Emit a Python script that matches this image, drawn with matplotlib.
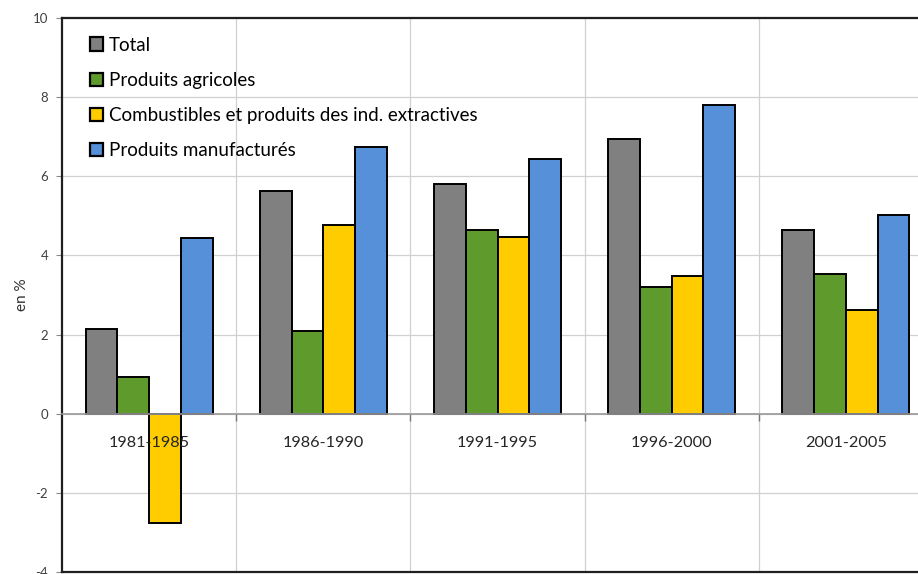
import numpy as np
import matplotlib
matplotlib.use('Agg')
import matplotlib.pyplot as plt

plt.rcParams['font.family'] = ['Lato', 'DejaVu Sans']
plt.rcParams['axes.unicode_minus'] = False

# data (en %)
periodes = ['1981-1985', '1986-1990', '1991-1995', '1996-2000', '2001-2005']
series_noms = ['Total', 'Produits agricoles',
               'Combustibles et produits des ind. extractives',
               'Produits manufacturés']
total = [2.13, 5.63, 5.80, 6.94, 4.64]
agricoles = [0.94, 2.10, 4.64, 3.21, 3.54]
combustibles = [-2.77, 4.78, 4.46, 3.49, 2.63]
manufactures = [4.43, 6.75, 6.44, 7.79, 5.03]
couleurs = ['#808080', '#5E9A2C', '#FFCC00', '#5590D8']

series = [total, agricoles, combustibles, manufactures]

##################################### figure
fig = plt.figure(figsize=(9.18, 5.74), dpi=100)
ax = fig.add_axes([62/918, 2/574, (933-62)/918, 554/574])

x = np.arange(len(periodes))
w = 0.182
for i, (vals, nom, c) in enumerate(zip(series, series_noms, couleurs)):
    ax.bar(x + (i - 1.5)*w, vals, w, color=c, edgecolor='black',
           linewidth=1.4, label=nom, zorder=2)

ax.set_xlim(-0.5, len(periodes) - 0.5)
ax.set_ylim(-4, 10)
ax.set_yticks(np.arange(-4, 11, 2))
ax.set_xticks(x[:-1] + 0.5)
ax.set_xticklabels([])
ax.tick_params(axis='x', length=0)
ax.tick_params(axis='y', length=4, width=0.8, color='#888888',
               labelsize=9.5, labelcolor='#404040', pad=6)
ax.grid(True, color='#d0d0d0', linewidth=0.9, zorder=0)
ax.set_axisbelow(True)
for s in ['left', 'bottom', 'top']:
    ax.spines[s].set_linewidth(1.6)
    ax.spines[s].set_color('#202020')
ax.set_ylabel('en %', fontsize=11, color='#303030', labelpad=3)

# category axis along zero, drawn over the bars
frac0 = (0 - (-4)) / 14
sec = ax.secondary_xaxis(frac0)
sec.set_zorder(5)
sec.set_xticks(x)
sec.set_xticklabels(periodes)
sec.set_xticks(x[:-1] + 0.5, minor=True)
sec.tick_params(axis='x', which='major', length=0, pad=16,
                labelsize=11.7, labelcolor='#262626')
sec.tick_params(axis='x', which='minor', length=5, width=1.0, color='#777777')
sec.spines['bottom'].set_color('#999999')
sec.spines['bottom'].set_linewidth(1.2)

leg = ax.legend(loc='upper left', bbox_to_anchor=(0.017, 0.99), frameon=False,
                fontsize=13.5, handlelength=0.72, handleheight=0.72,
                handletextpad=0.3, labelspacing=0.97, borderaxespad=0.3)
for h in leg.legend_handles:
    h.set_linewidth(1.6)

fig.savefig('out.png', dpi=100)
